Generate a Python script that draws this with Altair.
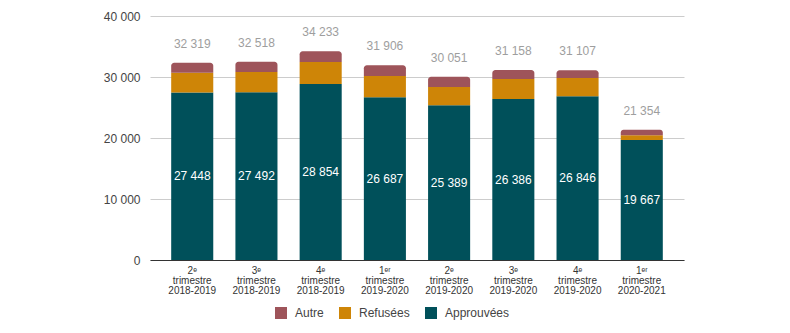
import altair as alt
import pandas as pd

periods = ["2ᵉ|trimestre|2018-2019", "3ᵉ|trimestre|2018-2019", "4ᵉ|trimestre|2018-2019",
           "1ᵉʳ|trimestre|2019-2020", "2ᵉ|trimestre|2019-2020", "3ᵉ|trimestre|2019-2020",
           "4ᵉ|trimestre|2019-2020", "1ᵉʳ|trimestre|2020-2021"]
approuvees = [27448, 27492, 28854, 26687, 25389, 26386, 26846, 19667]
refusees = [3257, 3330, 3600, 3477, 2972, 3286, 2990, 783]
autre = [1614, 1696, 1779, 1742, 1690, 1486, 1271, 904]
totals = [32319, 32518, 34233, 31906, 30051, 31158, 31107, 21354]

series = ["Autre", "Refusées", "Approuvées"]
colors = ["#9E545A", "#CE8507", "#00505A"]


def fmt(v):
    return f"{v:,}".replace(",", " ")


rows = []
for i, p in enumerate(periods):
    lo = 0
    for name, vals in (("Approuvées", approuvees), ("Refusées", refusees), ("Autre", autre)):
        rows.append({"period": p, "serie": name, "low": lo, "high": lo + vals[i]})
        lo += vals[i]
df = pd.DataFrame(rows)

lab = pd.DataFrame({
    "period": periods,
    "total": totals,
    "total_txt": [fmt(v) for v in totals],
    "appr_mid": [v / 2 for v in approuvees],
    "appr_txt": [fmt(v) for v in approuvees],
})

xenc = alt.X("period:N", sort=periods, title=None,
             scale=alt.Scale(paddingInner=0.345, paddingOuter=0.33),
             axis=alt.Axis(labelAngle=0, ticks=False, domainColor="#333333",
                           labelExpr="split(datum.label, '|')", labelColor="#333333",
                           labelFontSize=10, labelPadding=5, labelLineHeight=10,
                           labelFont="Liberation Sans", grid=False))
yscale = alt.Scale(domain=[0, 40000])
color = alt.Color("serie:N", title=None,
                  scale=alt.Scale(domain=series, range=colors),
                  legend=alt.Legend(orient="none", direction="horizontal",
                                    legendX=125, legendY=291,
                                    symbolType="square", symbolSize=144,
                                    symbolStrokeWidth=0, labelFontSize=12,
                                    labelColor="#444444", labelFont="Liberation Sans",
                                    labelOffset=8, columnPadding=15))

base = alt.Chart(df)
bars = base.transform_filter("datum.serie != 'Autre'").mark_bar().encode(
    x=xenc,
    y=alt.Y("low:Q", scale=yscale, title=None,
            axis=alt.Axis(values=[0, 10000, 20000, 30000, 40000], ticks=False, domain=False,
                          gridColor="#cccccc", labelColor="#444444", labelFontSize=12,
                          labelFont="Liberation Sans", labelPadding=10,
                          labelExpr="replace(format(datum.value, ','), regexp(',', 'g'), ' ')")),
    y2="high:Q",
    color=color,
)
top = base.transform_filter("datum.serie == 'Autre'").mark_bar(
    cornerRadiusTopLeft=3, cornerRadiusTopRight=3).encode(
    x=alt.X("period:N", sort=periods),
    y=alt.Y("low:Q", scale=yscale),
    y2="high:Q",
    color=color,
)

tot = alt.Chart(lab).mark_text(baseline="bottom", dy=-12, fontSize=12, color="#9e9e9e",
                               font="Liberation Sans").encode(
    x=alt.X("period:N", sort=periods), y=alt.Y("total:Q", scale=yscale), text="total_txt:N")
inner = alt.Chart(lab).mark_text(baseline="middle", fontSize=12, color="#ffffff",
                                 font="Liberation Sans").encode(
    x=alt.X("period:N", sort=periods), y=alt.Y("appr_mid:Q", scale=yscale), text="appr_txt:N")

chart = alt.layer(bars, top, tot, inner).properties(
    width=534, height=244,
    background="white",
    autosize=alt.AutoSizeParams(type="none"),
    padding={"left": 150, "top": 16, "right": 106, "bottom": 73},
).configure_view(stroke=None)

chart.save("out.html", embed_options={"renderer": "svg", "actions": False})
